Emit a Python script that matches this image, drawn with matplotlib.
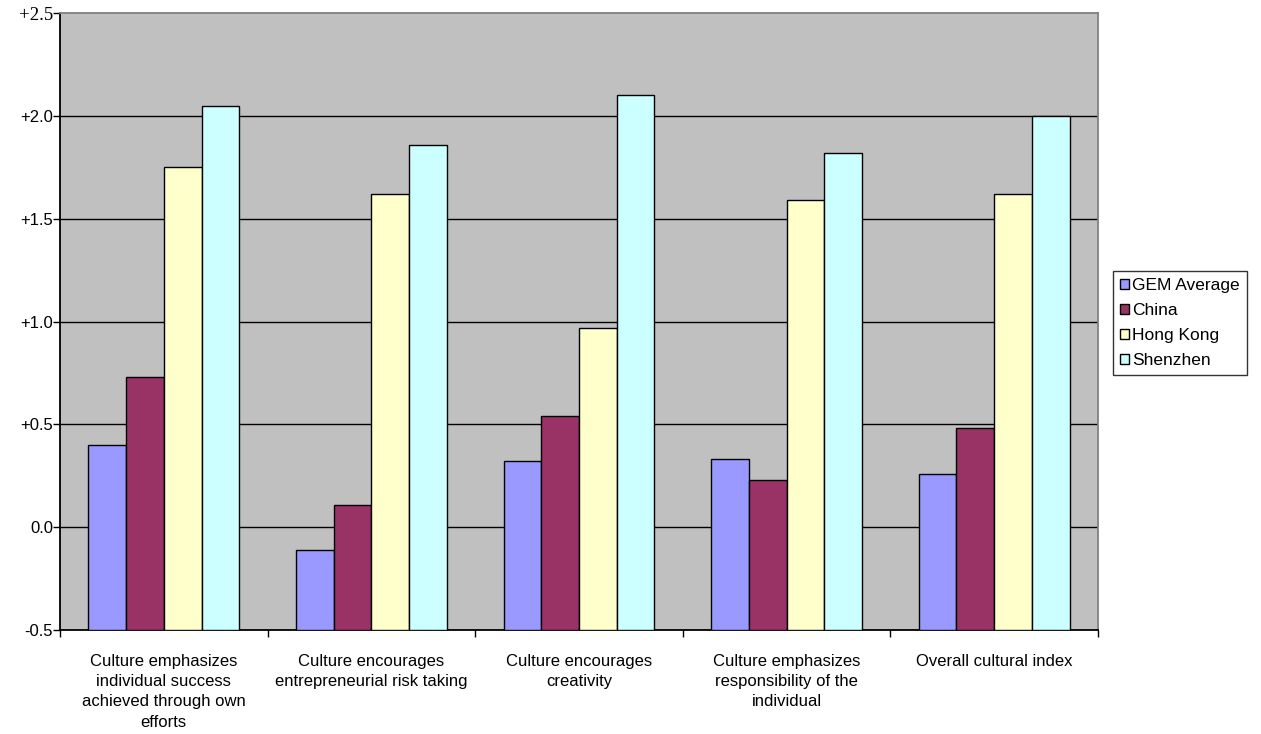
from matplotlib import pyplot as plt
from matplotlib.patches import Patch
import numpy as np


categories = [
    'Culture emphasizes\nindividual success\nachieved through own\nefforts',
    'Culture encourages\nentrepreneurial risk taking',
    'Culture encourages\ncreativity',
    'Culture emphasizes\nresponsibility of the\nindividual',
    'Overall cultural index',
]

series_names = ['GEM Average', 'China', 'Hong Kong', 'Shenzhen']

gem_average = [0.40, -0.11, 0.32, 0.33, 0.26]
china = [0.73, 0.11, 0.54, 0.23, 0.48]
hong_kong = [1.75, 1.62, 0.97, 1.59, 1.62]
shenzhen = [2.05, 1.86, 2.10, 1.82, 2.00]

y_ticks = [-0.5, 0.0, 0.5, 1.0, 1.5, 2.0, 2.5]
y_tick_labels = ['-0.5', '0.0', '+0.5', '+1.0', '+1.5', '+2.0', '+2.5']

colors_map = {
    'GEM Average': '#9999ff',
    'China': '#993366',
    'Hong Kong': '#ffffcc',
    'Shenzhen': '#ccffff',
}

plt.rcParams['font.family'] = ['Liberation Sans', 'DejaVu Sans']

fig = plt.figure(figsize=(12.61, 7.34), dpi=100)
ax = fig.add_axes([60 / 1261, 104 / 734, 1038 / 1261, 617 / 734])
ax.set_facecolor('#c0c0c0')

values = [gem_average, china, hong_kong, shenzhen]
n_series = len(values)
# excel style: gap width 150% of a bar
bar_w = 1.0 / (n_series + 1.5)
base = y_ticks[0]
x = np.arange(len(categories))
for i, (name, vals) in enumerate(zip(series_names, values)):
    offs = (i - (n_series - 1) / 2) * bar_w
    ax.bar(x + offs, np.array(vals) - base, bottom=base, width=bar_w,
           color=colors_map[name], edgecolor='black', linewidth=1.0, zorder=3)

# horizontal grid lines, the top one is the frame
for t in y_ticks[1:-1]:
    ax.axhline(t, color='black', linewidth=1.0, zorder=1)

ax.set_xlim(-0.5, len(categories) - 0.5)
ax.set_ylim(y_ticks[0], y_ticks[-1])

ax.set_yticks(y_ticks)
ax.set_yticklabels(y_tick_labels, fontsize=12)
top_lbl = ax.get_yticklabels()[-1]
top_lbl.set_family(['Liberation Serif'])
top_lbl.set_fontsize(13.5)
ax.tick_params(axis='y', direction='out', length=5, width=1.0, pad=0,
               color='black')

# ticks on category boundaries, labels on the centres
ax.set_xticks(np.arange(len(categories) + 1) - 0.5)
ax.set_xticklabels([])
ax.set_xticks(x, minor=True)
ax.set_xticklabels(categories, minor=True, fontsize=12, linespacing=1.45,
                   va='top', ha='center')
ax.tick_params(axis='x', which='major', direction='out', length=5, width=1.0)
ax.tick_params(axis='x', which='minor', length=0, pad=17)

for side in ['left', 'bottom']:
    ax.spines[side].set_color('black')
    ax.spines[side].set_linewidth(1.3)
for side in ['top', 'right']:
    ax.spines[side].set_color('#808080')
    ax.spines[side].set_linewidth(1.3)

handles = [Patch(facecolor=colors_map[n], edgecolor='black', linewidth=1.0)
           for n in series_names]
leg = fig.legend(handles, series_names, loc='upper left',
                 bbox_to_anchor=(1113 / 1261, 1 - 271 / 734),
                 borderaxespad=0, fontsize=12.5, frameon=True, fancybox=False,
                 handlelength=0.5, handleheight=0.5, handletextpad=0.2,
                 labelspacing=0.58, borderpad=0.4)
leg.get_frame().set_edgecolor('black')
leg.get_frame().set_linewidth(1.0)

fig.savefig('out.png', dpi=100, facecolor='white')
